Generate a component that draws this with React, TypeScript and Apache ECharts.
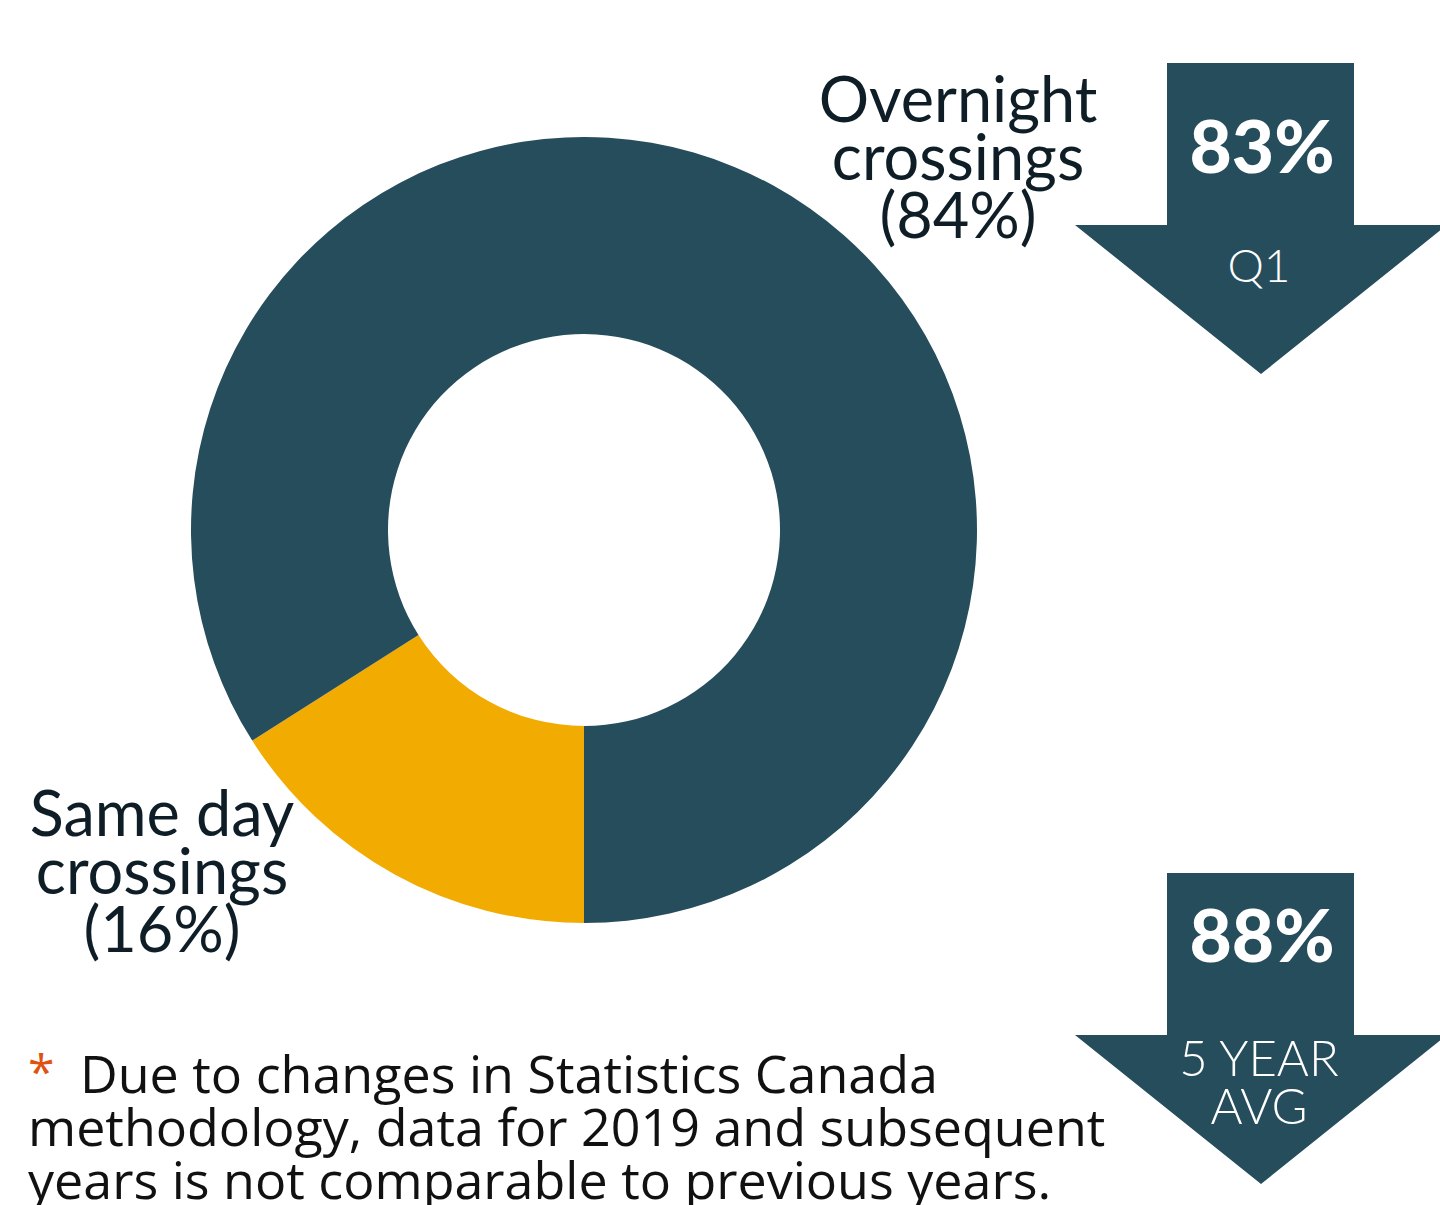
import React, { useEffect, useRef } from "react";
import * as echarts from "echarts";

const categories = ["Same day crossings", "Overnight crossings"];
const shares = [16, 84];
const sliceColors = ["#F2AB00", "#264D5C"];
const arrowValues = ["83%", "88%"];
const arrowCaptions = [["Q1"], ["5 YEAR", "AVG"]];
const footnoteLines = [
  "Due to changes in Statistics Canada",
  "methodology, data for 2019 and subsequent",
  "years is not comparable to previous years.",
];

const DARK = "#264D5C";
const TEXT = "#0F1E26";
const FONT = "Lato, 'Noto Sans', sans-serif";
const NOTE_FONT = "'Open Sans', Lato, sans-serif";

function labelLines(i: number): string {
  const words = categories[i].split(" ");
  const last = words.pop();
  return `${words.join(" ")}\n${last}\n(${shares[i]}%)`;
}

export default function App() {
  const ref = useRef<HTMLDivElement>(null);
  useEffect(() => {
    if (!ref.current) return;
    const chart = echarts.init(ref.current, null, { renderer: "svg" });

    const arrowTops = [63, 873];
    const valueOffsets = [82, 61];
    const graphics: any[] = [];
    arrowTops.forEach((top, k) => {
      graphics.push({
        type: "polygon",
        shape: {
          points: [
            [1167, top],
            [1354, top],
            [1354, top + 162],
            [1447, top + 162],
            [1261, top + 311],
            [1075, top + 162],
            [1167, top + 162],
          ],
        },
        style: { fill: DARK },
        silent: true,
      });
      graphics.push({
        type: "text",
        x: 1262,
        y: top + valueOffsets[k],
        style: {
          text: arrowValues[k],
          fill: "#fff",
          font: `900 73px ${FONT}`,
          textAlign: "center",
          textVerticalAlign: "middle",
        },
      });
      const caps = arrowCaptions[k];
      caps.forEach((c, j) => {
        const cy = caps.length === 1 ? top + 201 : top + 184 + j * 48;
        graphics.push({
          type: "text",
          x: 1259,
          y: cy,
          style: {
            text: c,
            fill: "#fff",
            font: `300 ${caps.length === 1 ? 46 : 49}px ${FONT}`,
            textAlign: "center",
            textVerticalAlign: "middle",
          },
        });
      });
    });

    // pie labels
    graphics.push({
      type: "text",
      x: 958,
      y: 155,
      style: {
        text: labelLines(1),
        fill: TEXT,
        font: `400 63px ${FONT}`,
        lineHeight: 58,
        textAlign: "center",
        textVerticalAlign: "middle",
      },
    });
    graphics.push({
      type: "text",
      x: 162,
      y: 869,
      style: {
        text: labelLines(0),
        fill: TEXT,
        font: `400 63px ${FONT}`,
        lineHeight: 58,
        textAlign: "center",
        textVerticalAlign: "middle",
      },
    });

    // footnote
    graphics.push({
      type: "text",
      x: 28,
      y: 1070,
      style: {
        text: "*",
        fill: "#E0520F",
        font: `400 48px ${NOTE_FONT}`,
        textAlign: "left",
        textVerticalAlign: "middle",
      },
    });
    footnoteLines.forEach((line, i) => {
      graphics.push({
        type: "text",
        x: i === 0 ? 80 : 28,
        y: 1072 + i * 53,
        style: {
          text: line,
          fill: "#111",
          font: `400 52px ${NOTE_FONT}`,
          textAlign: "left",
          textVerticalAlign: "middle",
        },
      });
    });

    chart.setOption({
      animation: false,
      backgroundColor: "#fff",
      series: [
        {
          type: "pie",
          center: [584, 530],
          radius: [196, 393],
          startAngle: 270,
          clockwise: true,
          label: { show: false },
          labelLine: { show: false },
          itemStyle: { borderWidth: 0 },
          emphasis: { disabled: true },
          data: categories.map((name, i) => ({
            name,
            value: shares[i],
            itemStyle: { color: sliceColors[i] },
          })),
        },
      ],
      graphic: graphics,
    });
    return () => chart.dispose();
  }, []);
  return (
    <div
      ref={ref}
      style={{ position: "absolute", left: 0, top: 0, width: 1440, height: 1205 }}
    />
  );
}
